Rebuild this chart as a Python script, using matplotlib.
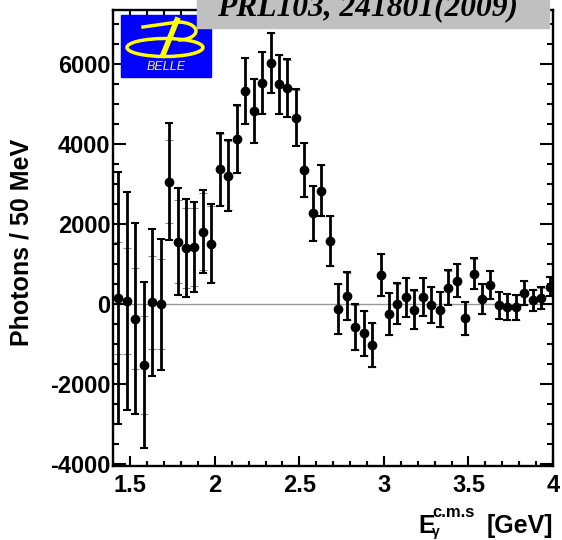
import numpy as np
import matplotlib
matplotlib.use('Agg')
import matplotlib.pyplot as plt
from matplotlib.patches import Rectangle, Ellipse, Arc
from matplotlib.ticker import MultipleLocator, FuncFormatter

# photon spectrum, 50 MeV bins
e_gamma = np.linspace(1.43, 3.98, 52)
photons = [150, 80, -360, -1517, 45, 0, 3067, 1567, 1408, 1433,
           1817, 1508, 3375, 3217, 4133, 5342, 4842, 5542, 6042, 5500,
           5400, 4667, 3358, 2275, 2842, 1583, -125, 200, -575, -725,
           -1017, 733, -242, 8, 167, -142, 183, -17, -142, 417,
           592, -358, 758, 133, 475, -25, -75, -83, 275, 92,
           150, 442]
tot_err = [3150, 2720, 2400, 2083, 1837, 1637, 1460, 1333, 1217, 1125,
           1040, 990, 917, 885, 845, 825, 805, 780, 754, 745,
           725, 705, 683, 683, 640, 633, 629, 596, 570, 560,
           550, 525, 530, 510, 490, 485, 467, 458, 440, 430,
           417, 412, 387, 375, 358, 342, 333, 312, 300, 270,
           270, 250]
stat_err = [1400, 1320, 1265, 1233, 1167, 1125, 1042, 1041, 1009, 967,
            960, 960, 890, 860, 830, 810, 790, 770, 745, 735,
            715, 695, 675, 675, 630, 625, 620, 590, 565, 555,
            545, 520, 525, 505, 485, 480, 462, 453, 435, 425,
            412, 407, 382, 370, 353, 337, 328, 307, 295, 265,
            265, 245]

plt.rcParams['font.family'] = ['Liberation Sans', 'DejaVu Sans']
plt.rcParams['font.weight'] = 'bold'
plt.rcParams['axes.unicode_minus'] = False

fig = plt.figure(figsize=(5.62, 5.4), dpi=100)
ax = fig.add_axes([0.2016, 0.137, 0.7824, 0.8444])

ax.axhline(0, color='#999999', lw=1.0, zorder=1)
ax.errorbar(e_gamma, photons, yerr=stat_err, fmt='none', ecolor='#888888',
            elinewidth=0.8, capsize=3, capthick=0.8, zorder=2)
ax.errorbar(e_gamma, photons, yerr=tot_err, fmt='o', color='black', ms=6,
            elinewidth=2, capsize=2.9, capthick=1.5, zorder=3)

ax.set_xlim(1.4, 4.0)
ax.set_ylim(-4050, 7360)
ax.xaxis.set_major_locator(MultipleLocator(0.5))
ax.xaxis.set_minor_locator(MultipleLocator(0.1))
ax.yaxis.set_major_locator(MultipleLocator(2000))
ax.yaxis.set_minor_locator(MultipleLocator(500))
ax.xaxis.set_major_formatter(FuncFormatter(lambda v, p: '%g' % v))
ax.yaxis.set_major_formatter(FuncFormatter(lambda v, p: '%g' % v))
ax.tick_params(which='both', direction='in', top=True, right=True, width=1.5,
               labelsize=17)
ax.tick_params(axis='y', which='major', length=9.4, pad=2)
ax.tick_params(axis='y', which='minor', length=4.3)
ax.tick_params(axis='x', which='major', length=7.5, pad=6)
ax.tick_params(axis='x', which='minor', length=3.6)
for s in ax.spines.values():
    s.set_linewidth(1.7)

fig.text(22 / 562, 1 - 242 / 540, 'Photons / 50 MeV', rotation=90,
         ha='center', va='center', fontsize=18)

# overlay in pixel coords for axis title, logo and reference box
ov = fig.add_axes([0, 0, 1, 1])
ov.set_xlim(0, 562)
ov.set_ylim(540, 0)
ov.axis('off')

ov.text(418, 533, 'E', fontsize=18, ha='left', va='baseline')
ov.text(432, 517, 'c.m.s', fontsize=12, ha='left', va='baseline')
ov.text(432, 536, 'γ', fontsize=10, ha='left', va='baseline')
ov.text(553, 533, '[GeV]', fontsize=18, ha='right', va='baseline')

ov.add_patch(Rectangle((121, 15), 90, 62, color='#0000ff', zorder=1))
yel = '#ffff00'
ov.add_patch(Ellipse((165, 47.5), 76, 18, fill=False, ec=yel, lw=2.5, zorder=2))
ov.add_patch(Arc((178, 31), 36, 18, theta1=-90, theta2=90, ec=yel, lw=2.5, zorder=2))
ov.plot([143, 178], [27, 22], color=yel, lw=2.5, zorder=2)
ov.plot([177, 163], [20, 55], color=yel, lw=4, zorder=2)
ov.text(166, 67.5, 'BELLE', color=yel, fontsize=9, style='italic',
        weight='normal', ha='center', va='center', zorder=2)

ov.add_patch(Rectangle((197, 0), 352, 28, color='#c0c0c0', zorder=3))
ov.text(367.5, 15, 'PRL103, 241801(2009)', family='Liberation Serif',
        weight='bold', style='italic', fontsize=22.7, ha='center',
        va='baseline', zorder=4)

fig.savefig('out.png', dpi=100)
